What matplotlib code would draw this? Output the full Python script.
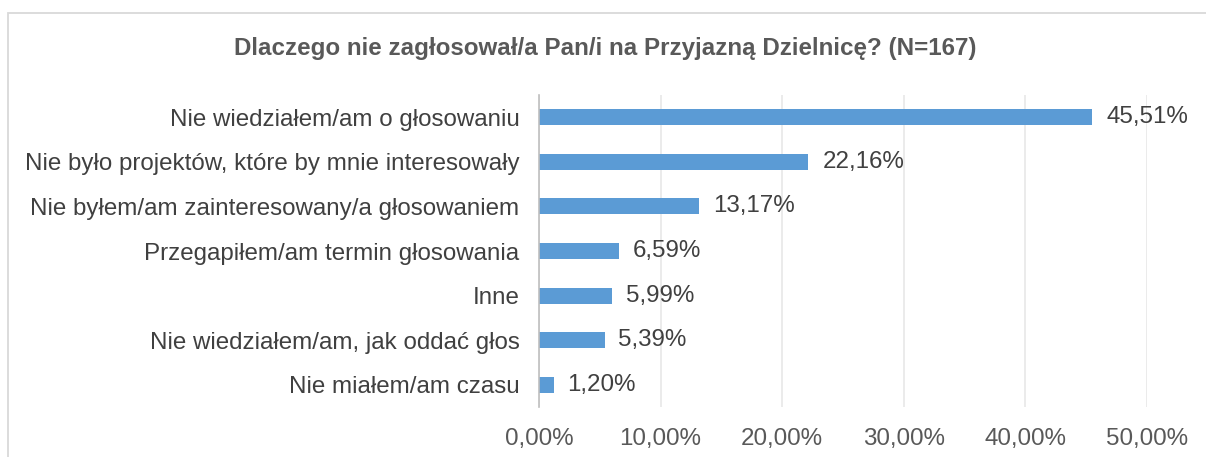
import matplotlib
matplotlib.use('Agg')
import matplotlib.pyplot as plt
from matplotlib.patches import Rectangle

# data
categories = [
    "Nie wiedziałem/am o głosowaniu",
    "Nie było projektów, które by mnie interesowały",
    "Nie byłem/am zainteresowany/a głosowaniem",
    "Przegapiłem/am termin głosowania",
    "Inne",
    "Nie wiedziałem/am, jak oddać głos",
    "Nie miałem/am czasu",
]
values = [45.51, 22.16, 13.17, 6.59, 5.99, 5.39, 1.20]
xticks = [0, 10, 20, 30, 40, 50]
title = "Dlaczego nie zagłosował/a Pan/i na Przyjazną Dzielnicę? (N=167)"

plt.rcParams['font.family'] = ['Liberation Sans', 'DejaVu Sans']

W, H = 1206, 457
fig = plt.figure(figsize=(W / 100, H / 100), dpi=100)

# chart frame (cut off at right and bottom)
fig.patches.append(Rectangle((7.5 / W, -0.2), 1.5, 1.2 - 12.5 / H,
                             transform=fig.transFigure, fill=False,
                             edgecolor='#D9D9D9', linewidth=1.3))

ax = fig.add_axes([539 / W, 1 - 407 / H, (1147 - 539) / W, (407 - 95) / H])

y = list(range(len(categories)))
bars = ax.barh(y, values, height=0.36, color='#5B9BD5')
ax.set_ylim(len(categories) - 0.5, -0.5)
ax.set_xlim(0, 50)

ax.set_yticks(y)
ax.set_yticklabels(categories, fontsize=17.4, color='#404040')
ax.set_xticks(xticks)
ax.set_xticklabels([f"{t:.2f}%".replace('.', ',') for t in xticks],
                   fontsize=17.4, color='#595959')
ax.tick_params(length=0)
ax.tick_params(axis='y', pad=14)
ax.tick_params(axis='x', pad=15)

labels = [f"{v:.2f}%".replace('.', ',') for v in values]
ax.bar_label(bars, labels=labels, padding=10, fontsize=17.4, color='#404040')

ax.grid(axis='x', color='#E8E8E8', linewidth=1.2)
ax.set_axisbelow(True)
for s in ['top', 'right', 'bottom']:
    ax.spines[s].set_visible(False)
ax.spines['left'].set_color('#BFBFBF')
ax.spines['left'].set_linewidth(1.2)

fig.text(605 / W, 1 - 48 / H, title, ha='center', va='center',
         fontsize=17.4, fontweight='bold', color='#595959')

fig.savefig('out.png', dpi=100)
